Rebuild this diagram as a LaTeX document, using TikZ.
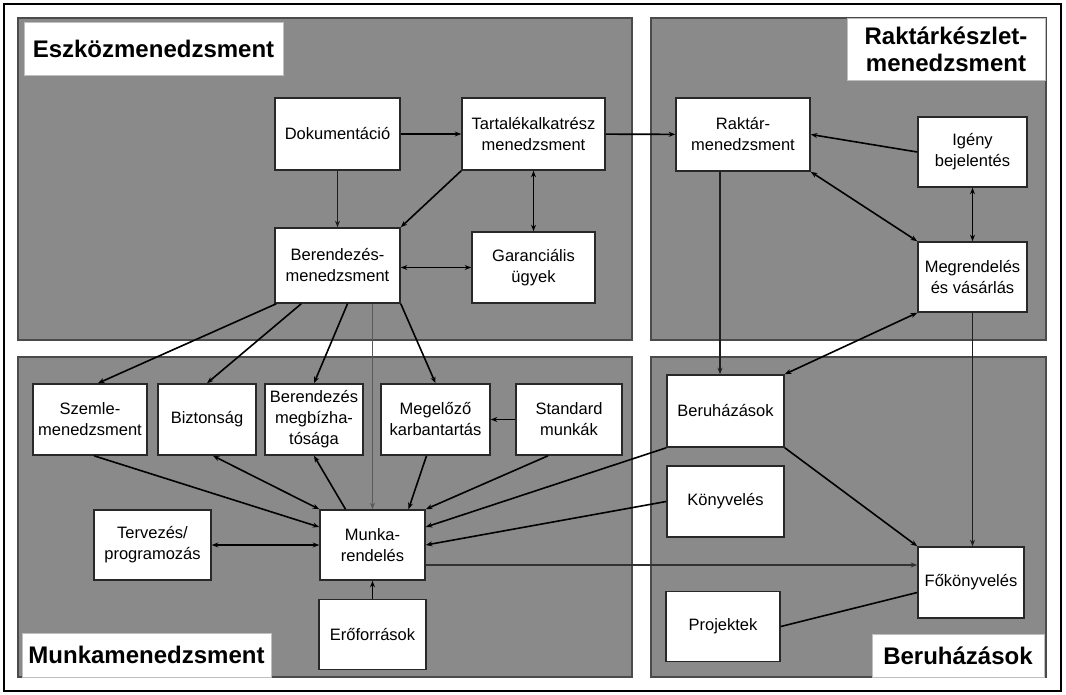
\documentclass[tikz,border=0pt]{standalone}
\usepackage{fontspec}
\setmainfont{Liberation Sans}
\usetikzlibrary{arrows.meta}
\definecolor{panelgray}{RGB}{138,138,138}
\definecolor{paneledge}{RGB}{75,75,75}
\definecolor{boxedge}{RGB}{40,40,40}
\definecolor{thinline}{RGB}{30,30,30}
\begin{document}
\begin{tikzpicture}[x=1pt,y=-1pt,
  panel/.style={draw=paneledge, line width=1.5pt, fill=panelgray},
  box/.style={draw=boxedge, line width=1.6pt, fill=white, align=center, inner sep=0pt, font=\fontsize{16.5}{21}\selectfont},
  titlebox/.style={draw=gray!50, line width=0.8pt, fill=white, inner sep=0pt, align=center, font=\fontsize{24}{27}\selectfont\bfseries},
  tip/.tip={Stealth[length=6.5pt,width=5pt]},
  conn/.style={line width=1.6pt, -tip},
  both/.style={line width=1.6pt, tip-tip},
  thinconn/.style={line width=1.1pt, draw=thinline, -tip},
  plain/.style={line width=1.6pt}
]
% canvas
\path[use as bounding box] (0,0) rectangle (1066,695);
\fill[white] (0,0) rectangle (1066,695);
\draw[line width=1.8pt] (4,4) rectangle (1061,691);

% panels
\draw[panel] (18,18) rectangle (632,340);
\draw[panel] (651,18) rectangle (1046,340);
\draw[panel] (18,357) rectangle (632,677);
\draw[panel] (651,357) rectangle (1046,677);

% panel titles
\node[titlebox, minimum width=259pt, minimum height=53pt] (t1) at (153.5,49) {Eszközmenedzsment};
\node[titlebox, minimum width=198pt, minimum height=62pt] (t2) at (946,49) {Raktárkészlet-\\menedzsment};
\node[titlebox, minimum width=249pt, minimum height=44pt] (t3) at (146.5,655) {Munkamenedzsment};
\node[titlebox, minimum width=172pt, minimum height=43pt] (t4) at (958,656) {Beruházások};

% nodes: top-left
\node[box, minimum width=125pt, minimum height=72pt] (doc) at (337.5,134) {Dokumentáció};
\node[box, minimum width=143pt, minimum height=72pt] (tart) at (533.5,134) {Tartalékalkatrész\\menedzsment};
\node[box, minimum width=125pt, minimum height=75pt] (ber) at (337.5,265.5) {Berendezés-\\menedzsment};
\node[box, minimum width=123pt, minimum height=71pt] (gar) at (533.5,267.5) {Garanciális\\ügyek};

% nodes: top-right
\node[box, minimum width=134pt, minimum height=73pt] (rakt) at (743,134.5) {Raktár-\\menedzsment};
\node[box, minimum width=109pt, minimum height=70pt] (igeny) at (972.5,152) {Igény\\bejelentés};
\node[box, minimum width=109pt, minimum height=70pt] (megr) at (972.5,277) {Megrendelés\\és vásárlás};

% nodes: bottom-left
\node[box, minimum width=114pt, minimum height=71pt] (szemle) at (90,419.5) {Szemle-\\menedzsment};
\node[box, minimum width=98pt, minimum height=71pt] (bizt) at (207,419.5) {Biztonság};
\node[box, minimum width=98pt, minimum height=71pt] (bmeg) at (314,419.5) {Berendezés\\megbízha-\\tósága};
\node[box, minimum width=109pt, minimum height=71pt] (mego) at (435.5,419.5) {Megelőző\\karbantartás};
\node[box, minimum width=106pt, minimum height=71pt] (stand) at (569,419.5) {Standard\\munkák};
\node[box, minimum width=117pt, minimum height=70pt] (terv) at (152.5,545) {Tervezés/\\programozás};
\node[box, minimum width=105pt, minimum height=70pt] (munka) at (372.5,545) {Munka-\\rendelés};
\node[box, minimum width=107pt, minimum height=70pt] (ero) at (372.5,634.5) {Erőforrások};

% nodes: bottom-right
\node[box, minimum width=117pt, minimum height=72pt] (beruh) at (725.5,411) {Beruházások};
\node[box, minimum width=117pt, minimum height=71pt] (konyv) at (725.5,501.5) {Könyvelés};
\node[box, minimum width=114pt, minimum height=70pt] (proj) at (723,626.5) {Projektek};
\node[box, minimum width=106pt, minimum height=71pt] (fok) at (971,582.5) {Főkönyvelés};

% connectors: asset management
\draw[conn] (doc) -- (tart);
\draw[thinconn] (doc) -- (ber);
\draw[conn] (tart.south west) -- (ber.north east);
\draw[both] (tart) -- (gar);
\draw[both] (gar.west -| ber.east) -- (gar.west);
\draw[conn] (tart) -- (rakt);

% inventory
\draw[conn] (igeny.west) -- (rakt.east);
\draw[both] (rakt.south east) -- (megr.north west);
\draw[line width=1.1pt, tip-tip] (igeny) -- (megr);
\draw[thinconn] ([xshift=-23pt]rakt.south) -- ([xshift=-23pt]rakt.south |- beruh.north);
\draw[both] (megr.south west) -- (beruh.north east);
\draw[thinconn] (megr.south) -- (megr.south |- fok.north);

% investments
\draw[conn] (beruh.south east) -- (fok.north west);
\draw[conn] (beruh.south west) -- ([yshift=18pt]munka.east);
\draw[conn] (konyv.west) -- (munka.east);
\draw[line width=1.3pt, draw={rgb,255:red,50;green,50;blue,50}, -tip] ([yshift=-20pt]munka.east) -- ([yshift=-20pt]munka.east -| fok.west);
\draw[plain] (proj.east) -- ([yshift=-10pt]fok.west);

% equipment management to work management
\draw[conn] ([xshift=2pt]ber.south west) -- ([xshift=8pt]szemle.north);
\draw[conn] ([xshift=27pt]ber.south west) -- (bizt.north);
\draw[conn] ([xshift=10pt]ber.south) -- (bmeg.north);
\draw[conn] (ber.south east) -- (mego.north);
\draw[line width=1.3pt, draw={rgb,255:red,90;green,90;blue,90}, -tip] ([xshift=35pt]ber.south) -- (munka.north);

% work management
\draw[conn] ([xshift=4pt]szemle.south) -- ([yshift=18pt]munka.west);
\draw[both] ([xshift=6pt]bizt.south) -- (munka.north west);
\draw[conn] ([xshift=-27pt]munka.north) -- (bmeg.south);
\draw[conn] ([xshift=-9pt]mego.south) -- ([xshift=36pt]munka.north);
\draw[conn] ([xshift=-21pt]stand.south) -- (munka.north east);
\draw[conn] (stand.west) -- (mego.east);
\draw[both] (terv.east) -- (munka.west);
\draw[conn] (ero) -- (munka);
\end{tikzpicture}
\end{document}
